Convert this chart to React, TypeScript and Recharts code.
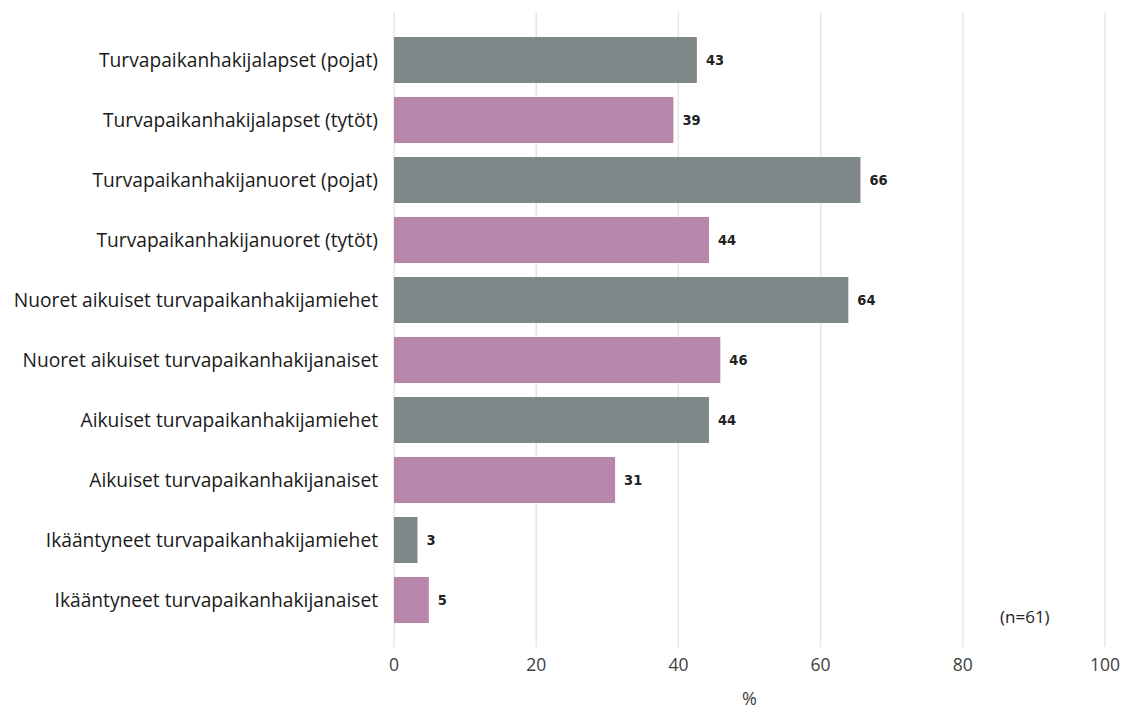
import React from 'react';
import { BarChart, Bar, XAxis, YAxis, CartesianGrid, Cell, LabelList, Label } from 'recharts';

const categories = [
  'Turvapaikanhakijalapset (pojat)',
  'Turvapaikanhakijalapset (tytöt)',
  'Turvapaikanhakijanuoret (pojat)',
  'Turvapaikanhakijanuoret (tytöt)',
  'Nuoret aikuiset turvapaikanhakijamiehet',
  'Nuoret aikuiset turvapaikanhakijanaiset',
  'Aikuiset turvapaikanhakijamiehet',
  'Aikuiset turvapaikanhakijanaiset',
  'Ikääntyneet turvapaikanhakijamiehet',
  'Ikääntyneet turvapaikanhakijanaiset',
];

// percentages (n=61), labels are shown rounded
const values = [42.6, 39.3, 65.6, 44.3, 63.9, 45.9, 44.3, 31.1, 3.3, 4.9];

const xTicks = [0, 20, 40, 60, 80, 100];

const GREY = '#7f8889';
const PINK = '#b886ab';
const FONT = '"Open Sans", sans-serif';

const data = categories.map((name, i) => ({ name, value: values[i] }));

export default function App() {
  return (
    <div style={{ position: 'absolute', left: 0, top: 0, width: 1127, height: 709, background: '#fff' }}>
      <BarChart
        width={1127}
        height={709}
        data={data}
        layout="vertical"
        margin={{ top: 12, right: 22, bottom: 22, left: 0 }}
      >
        <CartesianGrid horizontal={false} stroke="#e6e6e6" strokeWidth={1.5} />
        <XAxis
          type="number"
          domain={[0, 100]}
          ticks={xTicks}
          axisLine={false}
          tickLine={false}
          tickSize={0}
          tickMargin={12}
          height={40}
          tick={{ fill: '#404040', fontSize: 17.5, fontFamily: FONT }}
        >
          <Label
            value="%"
            position="insideBottom"
            offset={-18}
            style={{ fill: '#404040', fontSize: 18, fontFamily: FONT }}
          />
        </XAxis>
        <YAxis
          type="category"
          dataKey="name"
          width={394}
          axisLine={false}
          tickLine={false}
          tickSize={0}
          tickMargin={16}
          padding={{ top: 18, bottom: 17 }}
          interval={0}
          tick={{ fill: '#1a1a1a', fontSize: 19.2, fontFamily: FONT }}
        />
        <Bar dataKey="value" barSize={46} isAnimationActive={false}>
          {data.map((_, i) => (
            <Cell key={i} fill={i % 2 === 0 ? GREY : PINK} />
          ))}
          <LabelList
            dataKey="value"
            position="right"
            offset={9}
            formatter={(v: any) => Math.round(Number(v))}
            style={{ fill: '#222', fontSize: 14.5, fontWeight: 700, fontFamily: '"DejaVu Sans Condensed", "DejaVu Sans", sans-serif' }}
          />
        </Bar>
      </BarChart>
      <div
        style={{
          position: 'absolute',
          left: 1000,
          top: 605,
          fontSize: 17,
          color: '#222',
          fontFamily: FONT,
        }}
      >
        (n=61)
      </div>
    </div>
  );
}
